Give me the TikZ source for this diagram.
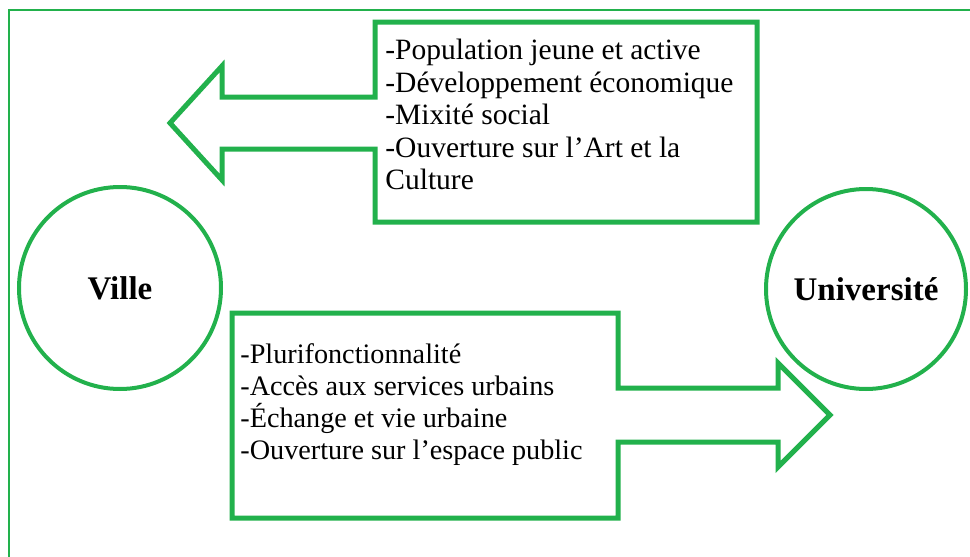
\documentclass[tikz,border=0pt]{standalone}
\usepackage{fontspec}
\setmainfont{Liberation Serif}
\usepackage{xcolor}
\usepackage{tikz}
\usetikzlibrary{positioning, calc}
\definecolor{vert}{RGB}{34,177,76}

\begin{document}
\begin{tikzpicture}[x=0.5pt, y=-0.5pt,
      rond/.style={draw=vert, line width=2pt, circle, minimum size=101pt,
                   inner sep=0pt, font=\fontsize{16.5}{18}\selectfont\bfseries},
      bloc/.style={inner sep=0pt, outer sep=0pt},
      liste/.style={align=left, inner sep=0pt, anchor=north west,
                    font=\fontsize{14.75}{16.25}\selectfont},
      contour/.style={draw=vert, line width=2.5pt, line join=miter}]
    \useasboundingbox (0,0) rectangle (970,557);
    \draw[vert, line width=1pt] (9,557) -- (9,9.5) -- (970,9.5);
    \node[rond] (ville) at (120,288) {Ville};
    \node[rond, minimum size=100pt] (univ) at (866,289) {Université};
    \node[bloc, minimum width=191pt, minimum height=100pt] (haut) at (566,122) {};
    \node[bloc, minimum width=193pt, minimum height=102.5pt] (bas) at (425,415.5) {};
    \coordinate (pv) at (170,123);
    \coordinate (pu) at (830,415);
    \draw[contour] ($(haut.west |- pv)+(0,-26)$) -- (haut.north west)
      -- (haut.north east) -- (haut.south east) -- (haut.south west)
      -- ($(haut.west |- pv)+(0,26)$) -- ($(pv)+(52,26)$) -- ($(pv)+(52,57)$)
      -- (pv) -- ($(pv)+(52,-57)$) -- ($(pv)+(52,-26)$) -- cycle;
    \draw[contour] ($(bas.east |- pu)+(0,-27)$) -- (bas.north east)
      -- (bas.north west) -- (bas.south west) -- (bas.south east)
      -- ($(bas.east |- pu)+(0,27)$) -- ($(pu)+(-52,27)$) -- ($(pu)+(-52,52)$)
      -- (pu) -- ($(pu)+(-52,-52)$) -- ($(pu)+(-52,-27)$) -- cycle;
    \node[liste] (atouts) at ([shift={(10,17)}]haut.north west)
      {-Population jeune et active\\-Développement économique\\-Mixité social\\-Ouverture sur l’Art et la\\Culture};
    \node[liste, font=\fontsize{14.1}{16}\selectfont] (apports) at ([shift={(8,30)}]bas.north west)
      {-Plurifonctionnalité\\-Accès aux services urbains\\-Échange et vie urbaine\\-Ouverture sur l’espace public};
  \end{tikzpicture}
\end{document}
